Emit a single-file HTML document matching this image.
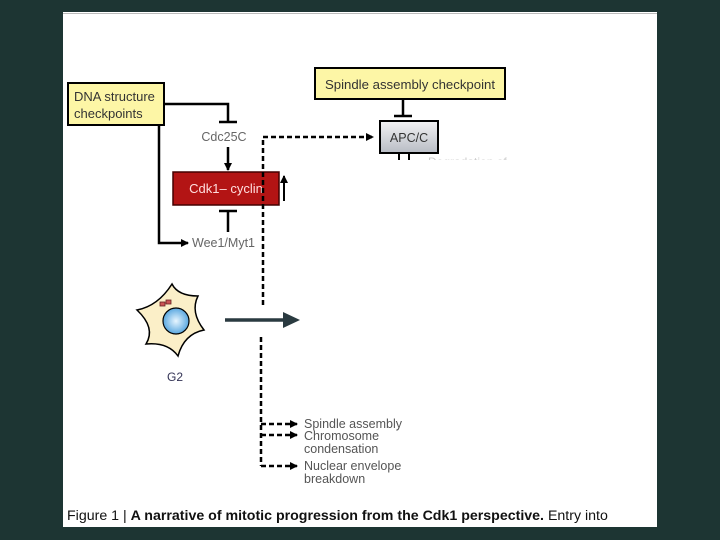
<!DOCTYPE html>
<html><head><style>
body{margin:0;background:#1d3533;}
svg{display:block}
text{font-family:"Liberation Sans",sans-serif;}
</style></head><body>
<svg width="720" height="540" viewBox="0 0 720 540">
<defs>
<marker id="ah" markerWidth="8" markerHeight="8" refX="7" refY="4" orient="auto" markerUnits="userSpaceOnUse"><path d="M0,0 L8,4 L0,8 z" fill="#000"/></marker>
<radialGradient id="nuc" cx="0.5" cy="0.5" r="0.5"><stop offset="0" stop-color="#e8f6ff"/><stop offset="1" stop-color="#5aa8e0"/></radialGradient>
<linearGradient id="apc" x1="0" y1="0" x2="0" y2="1"><stop offset="0" stop-color="#f2f2f4"/><stop offset="1" stop-color="#b8bcc4"/></linearGradient>
</defs>
<rect x="63" y="12" width="594" height="515" fill="#fff"/>
<line x1="63" y1="13.5" x2="657" y2="13.5" stroke="#bbb" stroke-width="1"/>
<rect x="68" y="83" width="96" height="42" fill="#fdf6a6" stroke="#000" stroke-width="2"/>
<text x="74" y="101" font-size="13" fill="#333">DNA structure</text>
<text x="74" y="118" font-size="13" fill="#333">checkpoints</text>
<polyline points="164,104 228,104 228,122" fill="none" stroke="#000" stroke-width="2.5"/>
<line x1="219" y1="122" x2="237" y2="122" stroke="#000" stroke-width="2.5"/>
<text x="224" y="141" font-size="12.5" fill="#666" text-anchor="middle">Cdc25C</text>
<line x1="228" y1="147" x2="228" y2="170" stroke="#000" stroke-width="2.5" marker-end="url(#ah)"/>
<rect x="173" y="172" width="106" height="33" fill="#b31414" stroke="#400" stroke-width="1.5"/>
<text x="226" y="193" font-size="13" fill="#ffdede" text-anchor="middle">Cdk1– cyclin</text>
<line x1="284" y1="201" x2="284" y2="176" stroke="#000" stroke-width="2" marker-end="url(#ah)"/>
<line x1="219" y1="211" x2="237" y2="211" stroke="#000" stroke-width="2.5"/>
<line x1="228" y1="211" x2="228" y2="232" stroke="#000" stroke-width="2.5"/>
<polyline points="159,125 159,243 188,243" fill="none" stroke="#000" stroke-width="2.5" marker-end="url(#ah)"/>
<text x="192" y="247" font-size="12.5" fill="#666">Wee1/Myt1</text>
<polyline points="263,305 263,137 373,137" fill="none" stroke="#000" stroke-width="2.5" stroke-dasharray="5,3" marker-end="url(#ah)"/>
<rect x="315" y="68" width="190" height="31" fill="#fdf6a6" stroke="#000" stroke-width="2"/>
<text x="410" y="89" font-size="13.2" fill="#333" text-anchor="middle">Spindle assembly checkpoint</text>
<line x1="403" y1="99" x2="403" y2="116" stroke="#000" stroke-width="2.5"/>
<line x1="394" y1="116" x2="412" y2="116" stroke="#000" stroke-width="2.5"/>
<rect x="380" y="121" width="58" height="32" fill="url(#apc)" stroke="#000" stroke-width="2"/>
<text x="409" y="142" font-size="12.5" fill="#333" text-anchor="middle">APC/C</text>
<line x1="399" y1="153" x2="399" y2="160" stroke="#000" stroke-width="2"/>
<line x1="409" y1="153" x2="409" y2="160" stroke="#000" stroke-width="2"/>
<text x="428" y="166" font-size="12" fill="#ccc">Degradation of</text>
<rect x="420" y="160" width="120" height="12" fill="#fff"/>
<path d="M172,284 Q178,296 198,296 Q190,312 204,330 Q184,334 178,356 Q168,342 146,344 Q156,328 137,310 Q158,306 172,284 z" fill="#fbefc8" stroke="#000" stroke-width="1.5"/>
<circle cx="176" cy="321" r="13" fill="url(#nuc)" stroke="#000" stroke-width="1.2"/>
<rect x="160" y="302" width="5" height="4" fill="#c55" stroke="#622" stroke-width="0.8"/>
<rect x="166" y="300" width="5" height="4" fill="#c55" stroke="#622" stroke-width="0.8"/>
<text x="175" y="381" font-size="12" fill="#335" text-anchor="middle">G2</text>
<line x1="225" y1="320" x2="290" y2="320" stroke="#2a3a40" stroke-width="3.5"/>
<path d="M283,312 L300,320 L283,328 z" fill="#2a3a40"/>
<line x1="261" y1="337" x2="261" y2="466" stroke="#000" stroke-width="2.5" stroke-dasharray="5,3"/>
<line x1="261" y1="424" x2="297" y2="424" stroke="#000" stroke-width="2.5" stroke-dasharray="5,3" marker-end="url(#ah)"/>
<line x1="261" y1="435" x2="297" y2="435" stroke="#000" stroke-width="2.5" stroke-dasharray="5,3" marker-end="url(#ah)"/>
<line x1="261" y1="466" x2="297" y2="466" stroke="#000" stroke-width="2.5" stroke-dasharray="5,3" marker-end="url(#ah)"/>
<g font-size="12.5" fill="#555">
<text x="304" y="428">Spindle assembly</text>
<text x="304" y="440">Chromosome</text>
<text x="304" y="453">condensation</text>
<text x="304" y="470">Nuclear envelope</text>
<text x="304" y="483">breakdown</text>
</g>
<text x="67" y="520" font-size="14.2" fill="#111">Figure 1 | <tspan font-weight="bold">A narrative of mitotic progression from the Cdk1 perspective.</tspan> Entry into</text>
</svg>
</body></html>
